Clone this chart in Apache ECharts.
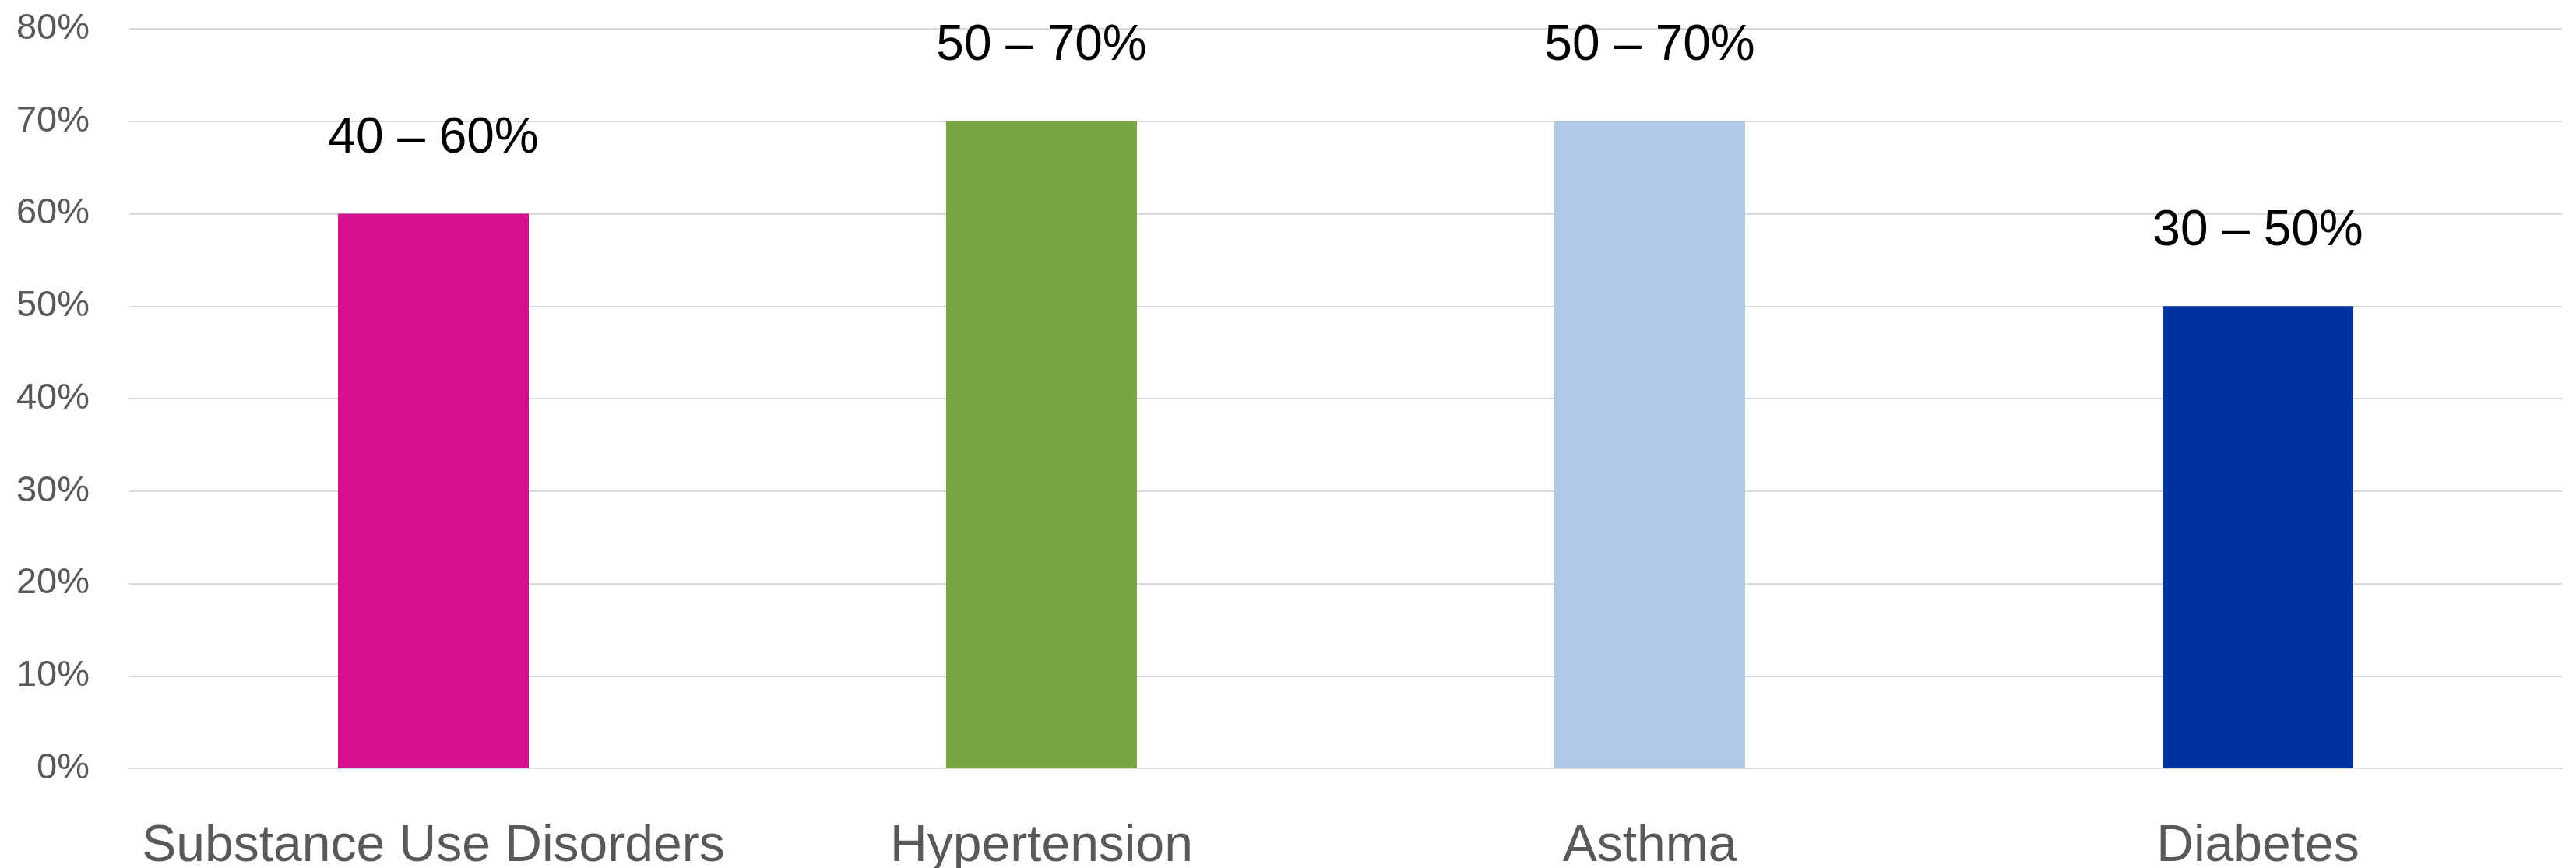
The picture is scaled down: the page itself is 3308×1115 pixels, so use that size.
<!DOCTYPE html>
<html>
<head>
<meta charset="utf-8">
<script src="https://cdn.jsdelivr.net/npm/echarts@6/dist/echarts.min.js"></script>
<style>
  html, body { margin: 0; padding: 0; background: #fff; }
  #RateChartDiv { width: 3308px; height: 1115px; }
</style>
</head>
<body>
<div id="RateChartDiv"></div>
<script>
//类别
var categories = ['Substance Use Disorders', 'Hypertension', 'Asthma', 'Diabetes'];
//区间下限 / 上限（%）
var lowValues = [40, 50, 50, 30];
var highValues = [60, 70, 70, 50];
//柱子颜色
var barColors = ['#D6108C', '#78A640', '#B1C9E8', '#0033A0'];
//纵轴刻度
var yMin = 0, yMax = 80, yStep = 10;

var RateChart;

function InitChart() {
    RateChart = echarts.init(document.getElementById('RateChartDiv'));
}

function GetBarOption() {
    var seriesData = [];
    for (var i = 0; i < categories.length; i++) {
        seriesData.push({ value: highValues[i], itemStyle: { color: barColors[i] } });
    }
    return {
        animation: false,
        backgroundColor: '#fff',
        grid: { left: 166, right: 18, top: 37, bottom: 128, containLabel: false, outerBoundsMode: 'none' },
        xAxis: {
            type: 'category',
            data: categories,
            axisLine: { show: true, lineStyle: { color: '#D9D9D9', width: 2 } },
            axisTick: { show: false },
            axisLabel: {
                color: '#595959',
                fontSize: 66,
                fontFamily: 'Liberation Sans, Arial, sans-serif',
                margin: 68,
                interval: 0
            }
        },
        yAxis: {
            type: 'value',
            min: yMin,
            max: yMax,
            interval: yStep,
            axisLine: { show: false },
            axisTick: { show: false },
            splitLine: { lineStyle: { color: '#D9D9D9', width: 2 } },
            axisLabel: {
                color: '#595959',
                fontSize: 47,
                fontFamily: 'Liberation Sans, Arial, sans-serif',
                margin: 51,
                formatter: '{value}%'
            }
        },
        series: [{
            type: 'bar',
            barWidth: 245,
            data: seriesData,
            label: {
                show: true,
                position: 'top',
                distance: 64,
                color: '#000',
                fontSize: 64,
                fontFamily: 'Liberation Sans, Arial, sans-serif',
                formatter: function (p) {
                    return lowValues[p.dataIndex] + ' \u2013 ' + highValues[p.dataIndex] + '%';
                }
            }
        }]
    };
}

InitChart();
RateChart.setOption(GetBarOption());
</script>
</body>
</html>
